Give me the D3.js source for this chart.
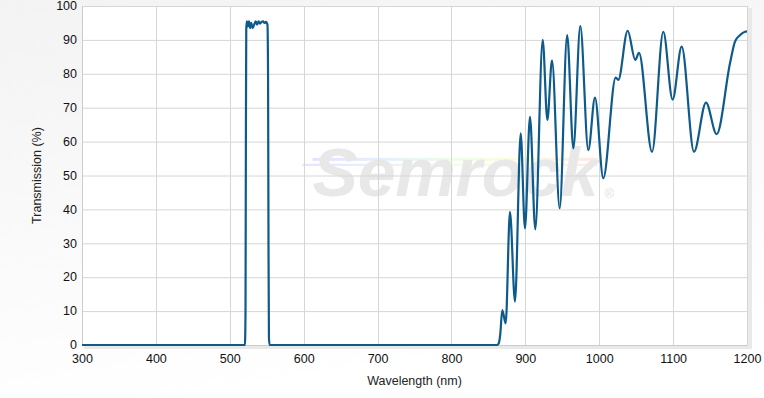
<!DOCTYPE html>
<html>
<head>
<meta charset="utf-8">
<script src="https://cdn.jsdelivr.net/npm/d3@7"></script>
<style>
  html, body { margin: 0; padding: 0; }
  body { width: 764px; height: 398px; overflow: hidden; }
  svg { display: block; font-family: "Liberation Sans", Arial, sans-serif; }
</style>
</head>
<body>
<div id="chart"></div>
<script>
// tick labels
let xTicks = [300, 400, 500, 600, 700, 800, 900, 1000, 1100, 1200];
let yTicks = [0, 10, 20, 30, 40, 50, 60, 70, 80, 90, 100];

// transmission curve: wavelength (nm) and transmission (%)
let wavelengths = [
  300, 515, 520.5, 521.3, 521.8, 522.3, 523, 524.5, 526, 527.5, 529, 531, 533, 535, 537, 539, 541, 543, 545, 547, 549, 551, 551.8, 552.4, 553, 554,
  862, 864, 866, 868.8, 873.4, 879.2, 886, 893.7, 899.5, 906.3, 913.5, 923.5, 929.8, 936.1, 946.5, 956.6, 965, 974.4, 985.2, 994.3, 1005.5,
  1022.3, 1025.8, 1038.5, 1048.8, 1053.8, 1071.5, 1086.7, 1099.3, 1111.6, 1128.3, 1144.5, 1158.9, 1177, 1183.7, 1190, 1197.3, 1200
];
let transmission = [
  0, 0, 0, 10, 60, 93, 95.5, 94, 95.5, 93.5, 95, 93.5, 94.5, 95.5, 94.5, 95.5, 94.8, 95.3, 95.5, 95, 95.3, 94.5, 80, 30, 2, 0,
  0, 0.5, 3, 10.3, 6.4, 39.3, 12.8, 62.4, 34.4, 67.3, 34.1, 90, 66.4, 84, 40.3, 91.4, 58, 94.1, 57.5, 73, 49.2,
  78.9, 78.2, 92.7, 84.1, 86.2, 57, 92.4, 72.4, 88, 57, 71.5, 62.2, 83.1, 89.5, 91.3, 92.4, 92.5
];

let data = wavelengths.map((w, i) => ({ w: w, t: transmission[i] }));

let width = 764, height = 398;
let margin = { top: 6, right: 17, bottom: 53, left: 82 };
let innerW = width - margin.left - margin.right;
let innerH = height - margin.top - margin.bottom;

let svg = d3.select("#chart").append("svg")
  .attr("width", width)
  .attr("height", height);

// page background gradient
let defs = svg.append("defs");
let bg = defs.append("linearGradient").attr("id", "bg")
  .attr("x1", "0").attr("y1", "0").attr("x2", "0.3").attr("y2", "1");
bg.append("stop").attr("offset", "0%").attr("stop-color", "#f3f3f3");
bg.append("stop").attr("offset", "100%").attr("stop-color", "#ffffff");

let rainbow = defs.append("linearGradient").attr("id", "rainbow");
["#e2e2ff", "#e4f0ff", "#eaffe6", "#fffadc", "#ffe6e6"].forEach((c, i, a) => {
  rainbow.append("stop").attr("offset", (i / (a.length - 1) * 100) + "%").attr("stop-color", c);
});

svg.append("rect").attr("width", width).attr("height", height).attr("fill", "url(#bg)");

let x = d3.scaleLinear().domain([300, 1200]).range([0, innerW]);
let y = d3.scaleLinear().domain([0, 100]).range([innerH, 0]);

let g = svg.append("g").attr("transform", `translate(${margin.left},${margin.top})`);

// shadow + plot area
g.append("rect").attr("x", 2).attr("y", 2).attr("width", innerW + 3).attr("height", innerH + 2)
  .attr("fill", "#e9e9e9");
g.append("rect").attr("width", innerW).attr("height", innerH).attr("fill", "#ffffff");

// watermark
let wm = g.append("g").attr("transform", `translate(${x(612)},${y(44)})`);
wm.append("rect").attr("x", 0).attr("y", -38).attr("width", 285).attr("height", 3).attr("fill", "url(#rainbow)");
wm.append("rect").attr("x", -10).attr("y", -32).attr("width", 295).attr("height", 2).attr("fill", "url(#rainbow)");
wm.append("text")
  .attr("x", 0).attr("y", 0)
  .attr("font-size", 68)
  .attr("font-weight", "bold")
  .attr("font-style", "italic")
  .attr("fill", "#e8e8e8")
  .attr("letter-spacing", 4)
  .attr("textLength", 290)
  .text("Semrock");
wm.append("text")
  .attr("x", 292).attr("y", 2)
  .attr("font-size", 13)
  .attr("fill", "#e2e2e2")
  .text("®");

// grid
g.append("g").selectAll("line").data(yTicks).enter().append("line")
  .attr("x1", 0).attr("x2", innerW)
  .attr("y1", d => y(d) + 0.5).attr("y2", d => y(d) + 0.5)
  .attr("stroke", "#d6d6d6");
g.append("g").selectAll("line").data(xTicks).enter().append("line")
  .attr("y1", 0).attr("y2", innerH)
  .attr("x1", d => Math.round(x(d)) + 0.5).attr("x2", d => Math.round(x(d)) + 0.5)
  .attr("stroke", "#d6d6d6");

// axes
let xAxis = g.append("g").attr("transform", `translate(0,${innerH})`)
  .call(d3.axisBottom(x).tickValues(xTicks).tickFormat(d3.format("d")).tickSize(0).tickPadding(9));
let yAxis = g.append("g")
  .call(d3.axisLeft(y).tickValues(yTicks).tickFormat(d3.format("d")).tickSize(0).tickPadding(5));
[xAxis, yAxis].forEach(a => {
  a.select(".domain").attr("stroke", "#cccccc");
  a.selectAll("text").attr("font-size", 12.5).attr("fill", "#111")
    .attr("font-family", "Liberation Sans, Arial, sans-serif");
});
yAxis.selectAll("text").attr("dy", "0.3em");

// the curve
let line = d3.line()
  .x(d => x(d.w))
  .y(d => y(d.t))
  .curve(d3.curveMonotoneX);

g.append("path")
  .datum(data)
  .attr("d", line)
  .attr("fill", "none")
  .attr("stroke", "#0e5a8a")
  .attr("stroke-width", 2.2)
  .attr("stroke-linejoin", "round");

// axis titles
svg.append("text")
  .attr("x", margin.left + innerW / 2).attr("y", 385)
  .attr("text-anchor", "middle")
  .attr("font-size", 12.5).attr("fill", "#222")
  .text("Wavelength (nm)");
svg.append("text")
  .attr("transform", `translate(41,${margin.top + innerH / 2}) rotate(-90)`)
  .attr("text-anchor", "middle")
  .attr("font-size", 12.5).attr("fill", "#222")
  .text("Transmission (%)");
</script>
</body>
</html>
